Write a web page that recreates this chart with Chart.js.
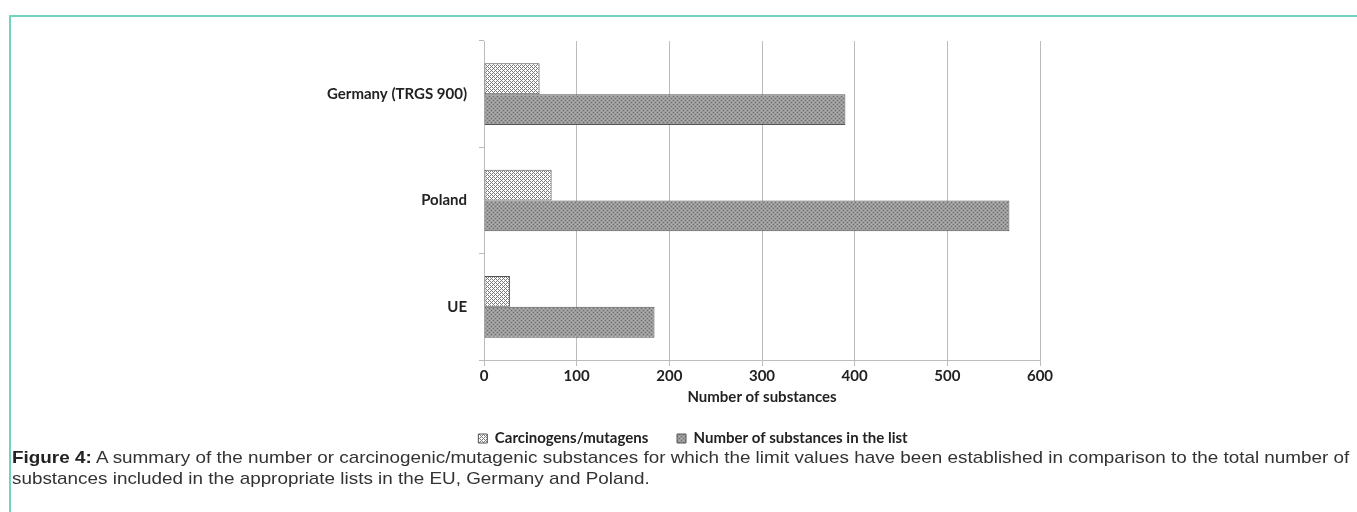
<!DOCTYPE html>
<html>
<head>
<meta charset="utf-8">
<script src="https://cdn.jsdelivr.net/npm/chart.js@4/dist/chart.umd.min.js"></script>
<style>
  html, body { margin: 0; padding: 0; background: #ffffff; overflow: hidden; }
  body { width: 1357px; height: 512px; position: relative; }
  #frame { position: absolute; left: 9px; top: 15px; width: 1400px; height: 600px;
           border-left: 2px solid #6fd3c0; border-top: 2px solid #6fd3c0; box-sizing: border-box; }
  #wrap { position: absolute; left: 29px; top: 0; width: 1328px; height: 512px; }
  #caption { position: absolute; left: 12px; top: 447px; font-family: "Liberation Sans", Arial, sans-serif;
             font-size: 17px; line-height: 21px; color: #333; white-space: nowrap;
             transform: scaleX(1.11); transform-origin: 0 0; }
  #caption b { color: #222; }
</style>
</head>
<body>
<div id="frame"></div>
<div id="wrap"><canvas id="chart"></canvas></div>
<div id="caption"><b>Figure 4:</b> A summary of the number or carcinogenic/mutagenic substances for which the limit values have been established in comparison to the total number of<br>substances included in the appropriate lists in the EU, Germany and Poland.</div>
<script>
// ---- data ----
const categories = ['Germany (TRGS 900)', 'Poland', 'UE'];
const seriesNames = ['Carcinogens/mutagens', 'Number of substances in the list'];
const carcinogens = [60, 73, 28];
const totals = [390, 567, 184];
const xTicks = [0, 100, 200, 300, 400, 500, 600];
const xTitle = 'Number of substances';

// ---- patterns ----
function makePattern(size, draw) {
  const c = document.createElement('canvas');
  c.width = size; c.height = size;
  const g = c.getContext('2d');
  draw(g, size);
  return g.createPattern(c, 'repeat');
}
const crossPattern = makePattern(4, (g, n) => {
  g.fillStyle = '#ffffff'; g.fillRect(0, 0, n, n);
  g.fillStyle = '#7a7a7a';
  for (let x = 0; x < n; x++) for (let y = 0; y < n; y++) {
    if ((x + y) % n === 0 || ((x - y + n) % n) === 0) g.fillRect(x, y, 1, 1);
  }
});
const dotPattern = makePattern(4, (g, n) => {
  g.fillStyle = '#9a9a9a'; g.fillRect(0, 0, n, n);
  g.fillStyle = '#6c6c6c'; g.fillRect(0, 0, 1, 1); g.fillRect(2, 2, 1, 1);
  g.fillStyle = '#b4b4b4'; g.fillRect(2, 0, 1, 1); g.fillRect(0, 2, 1, 1);
});

const FONT = 'Lato, "Open Sans", sans-serif';
const gridColor = '#bcbcbc';

new Chart(document.getElementById('chart'), {
  type: 'bar',
  data: {
    labels: categories,
    datasets: [
      { label: seriesNames[0], data: carcinogens, backgroundColor: crossPattern,
        borderColor: '#555555', borderWidth: 1, borderSkipped: false,
        categoryPercentage: 0.58, barPercentage: 1.0 },
      { label: seriesNames[1], data: totals, backgroundColor: dotPattern,
        borderColor: '#555555', borderWidth: 1, borderSkipped: false,
        categoryPercentage: 0.58, barPercentage: 1.0 }
    ]
  },
  options: {
    indexAxis: 'y',
    responsive: true,
    maintainAspectRatio: false,
    animation: false,
    layout: { padding: { top: 41, bottom: 56, left: 0, right: 0 } },
    plugins: {
      tooltip: { enabled: false },
      legend: {
        position: 'bottom',
        labels: {
          boxWidth: 9, boxHeight: 9, padding: 10, color: '#222',
          font: { family: FONT, size: 15, weight: 'bold' },
          generateLabels(chart) {
            const items = Chart.defaults.plugins.legend.labels.generateLabels(chart);
            items.forEach((it, i) => {
              it.lineWidth = 1; it.strokeStyle = '#555555';
              if (i === 0) it.text = it.text + '\u2003\u2002';
            });
            return items;
          }
        }
      }
    },
    scales: {
      x: {
        type: 'linear', min: 0, max: 600,
        afterBuildTicks(scale) { scale.ticks = xTicks.map(v => ({ value: v })); },
        grid: { color: gridColor, lineWidth: 1, tickLength: 6, drawTicks: true },
        border: { display: true, color: gridColor },
        ticks: { color: '#222', padding: 1, font: { family: FONT, size: 15, weight: 'bold' } },
        title: { display: true, text: xTitle, color: '#222', padding: { top: 2, bottom: 15 },
                 font: { family: FONT, size: 15, weight: 'bold' } }
      },
      y: {
        type: 'category',
        grid: { offset: true, drawOnChartArea: false, color: gridColor, tickLength: 5 },
        border: { display: true, color: gridColor },
        ticks: { color: '#222', padding: 12, font: { family: FONT, size: 15, weight: 'bold' } },
        afterFit(scale) { scale.width = 455; }
      },
      yRight: {
        type: 'linear', position: 'right', display: true,
        grid: { display: false, drawTicks: false }, border: { display: false },
        ticks: { display: false },
        afterFit(scale) { scale.width = 317; }
      }
    }
  }
});
</script>
</body>
</html>
